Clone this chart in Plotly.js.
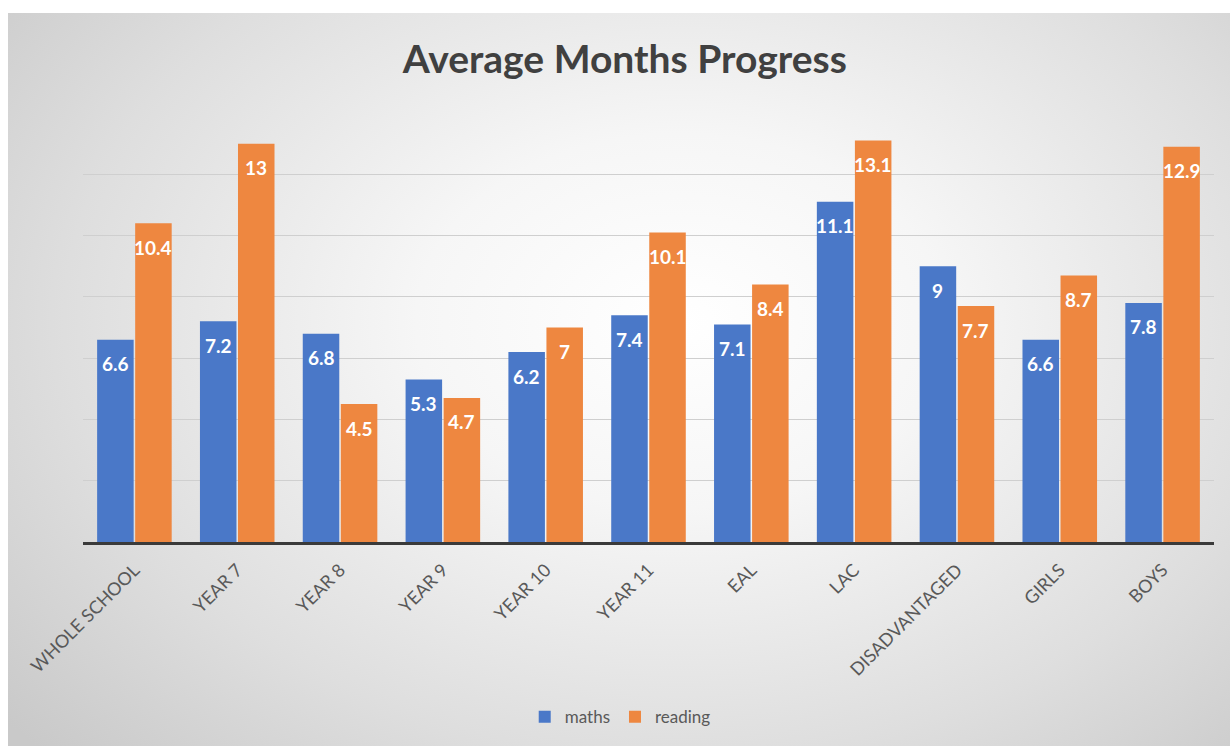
<!DOCTYPE html>
<html>
<head>
<meta charset="utf-8">
<script src="https://cdn.plot.ly/plotly-3.0.1.min.js"></script>
<style>
  html, body { margin: 0; padding: 0; background: #ffffff; }
  #bg { position: absolute; left: 8px; top: 13px; width: 1222px; height: 733px;
        background: radial-gradient(ellipse 72% 85% at 55% 42%, #ffffff 0%, #f6f6f6 30%, #dedede 70%, #c9c9c9 100%); }
  #chart { position: absolute; left: 0; top: 0; width: 1230px; height: 746px; }
</style>
</head>
<body>
<div id="bg"></div>
<div id="chart"></div>
<script>
const categories = ["WHOLE SCHOOL", "YEAR 7", "YEAR 8", "YEAR 9", "YEAR 10", "YEAR 11", "EAL", "LAC", "DISADVANTAGED", "GIRLS", "BOYS"];
const maths = [6.6, 7.2, 6.8, 5.3, 6.2, 7.4, 7.1, 11.1, 9, 6.6, 7.8];
const reading = [10.4, 13, 4.5, 4.7, 7, 10.1, 8.4, 13.1, 7.7, 8.7, 12.9];

const FONT = "Lato, 'Noto Sans', sans-serif";
const labelFont = {family: FONT, size: 19, color: "#ffffff", weight: "bold"};
const BARGAP = 0.26;
const half = (1 - BARGAP) / 4; // centre offset of each bar within a group, in category units

const traces = [
  {type: "bar", name: "maths", x: categories, y: maths, marker: {color: "#4A78C8"}, hoverinfo: "x+y"},
  {type: "bar", name: "reading", x: categories, y: reading, marker: {color: "#EE8740"}, hoverinfo: "x+y"}
];

const annotations = [];
categories.forEach((c, i) => {
  annotations.push({x: i - half, y: maths[i], xref: "x", yref: "y", text: String(maths[i]),
    showarrow: false, yanchor: "middle", yshift: -24, font: labelFont});
  annotations.push({x: i + half, y: reading[i], xref: "x", yref: "y", text: String(reading[i]),
    showarrow: false, yanchor: "middle", yshift: -24, font: labelFont});
});

const layout = {
  width: 1230, height: 746,
  paper_bgcolor: "rgba(0,0,0,0)", plot_bgcolor: "rgba(0,0,0,0)",
  margin: {l: 83, r: 16, t: 113, b: 203},
  title: {text: "<b>Average Months Progress</b>", x: 0.508, xanchor: "center", y: 0.92, yanchor: "middle",
          font: {family: FONT, size: 39, color: "#404040"}},
  barmode: "group", bargap: BARGAP, bargroupgap: 0.04,
  xaxis: {type: "category", tickangle: -45, tickfont: {family: FONT, size: 18, color: "#595959"},
          showline: true, linecolor: "#3a3a3a", linewidth: 2.5, ticks: "outside", ticklen: 8,
          tickcolor: "rgba(0,0,0,0)", showgrid: false},
  yaxis: {range: [0, 14], dtick: 2, showticklabels: false, showgrid: true, gridcolor: "#cfcfcf",
          gridwidth: 1, zeroline: false, showline: false, ticks: ""},
  legend: {orientation: "h", x: 0.475, xanchor: "center", y: -0.405, yanchor: "middle",
           font: {family: FONT, size: 17, color: "#595959"}, itemwidth: 30, traceorder: "normal"},
  annotations: annotations,
  showlegend: true
};

Plotly.newPlot("chart", traces, layout, {displayModeBar: false, staticPlot: true});
</script>
</body>
</html>
